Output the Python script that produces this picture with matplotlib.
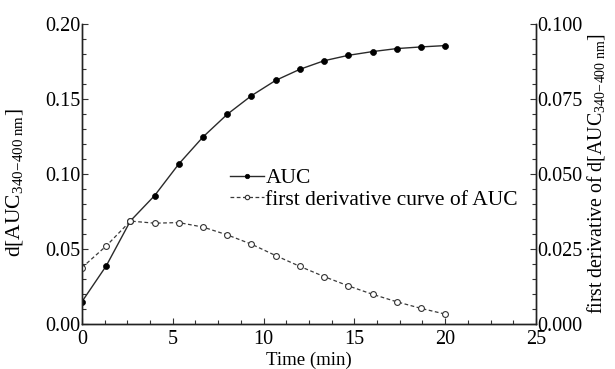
import numpy as np
import matplotlib
matplotlib.use('Agg')
import matplotlib.pyplot as plt
from matplotlib.ticker import MultipleLocator, FormatStrFormatter

plt.rcParams['font.family'] = ['Liberation Serif', 'DejaVu Serif']
plt.rcParams['mathtext.fontset'] = 'custom'
plt.rcParams['mathtext.rm'] = 'Liberation Serif'
plt.rcParams['mathtext.it'] = 'Liberation Serif:italic'

# sampling every 80 s
time_min = [0, 4/3, 8/3, 4, 16/3, 20/3, 8, 28/3, 32/3, 12, 40/3, 44/3, 16, 52/3, 56/3, 20]
auc = [0.0149, 0.0387, 0.0687, 0.0856, 0.1067, 0.1247, 0.1398, 0.1522, 0.1624,
       0.1698, 0.1755, 0.1791, 0.1816, 0.1836, 0.1847, 0.1856]
first_deriv = [0.0188, 0.0260, 0.0343, 0.0336, 0.0338, 0.0323, 0.0297, 0.0266, 0.0228,
               0.0192, 0.0158, 0.0127, 0.0099, 0.0074, 0.0052, 0.0033]

fig = plt.figure(figsize=(6.15, 3.69), dpi=100)
ax = fig.add_axes([0.1333, 0.122, 0.7382, 0.813])
ax2 = ax.twinx()

l1, = ax.plot(time_min, auc, '-', color='#2a2a2a', lw=1.0, marker='o', ms=4.3,
              mfc='black', mec='black', mew=0.5, label='AUC')
l2, = ax2.plot(time_min, first_deriv, '--', color='#3a3a3a', lw=0.9, marker='o', ms=4.2,
               mfc='white', mec='#333333', mew=0.8, label='first derivative curve of AUC')
l2.set_dashes((3, 2))

ax.set_xlim(0, 25)
ax.set_ylim(0, 0.2)
ax2.set_ylim(0, 0.1)
ax.xaxis.set_major_locator(MultipleLocator(5))
ax.xaxis.set_minor_locator(MultipleLocator(1.25))
ax.yaxis.set_major_locator(MultipleLocator(0.05))
ax.yaxis.set_minor_locator(MultipleLocator(0.01))
ax2.yaxis.set_major_locator(MultipleLocator(0.025))
ax2.yaxis.set_minor_locator(MultipleLocator(0.005))
ax.yaxis.set_major_formatter(FormatStrFormatter('%.2f'))
ax2.yaxis.set_major_formatter(FormatStrFormatter('%.3f'))

for a in (ax, ax2):
    a.spines['top'].set_visible(False)
    for s in a.spines.values():
        s.set_linewidth(1.0)
        s.set_color('#222222')
    a.tick_params(which='both', direction='in', labelsize=14.5, width=0.8, color='#333333')
    a.tick_params(which='major', length=4)
    a.tick_params(which='minor', length=3)
ax.tick_params(axis='x', pad=4)
ax.tick_params(axis='y', pad=1)
ax2.tick_params(axis='y', pad=1)

ax.set_xlabel('Time (min)', fontsize=13.5, labelpad=2)
ax.set_ylabel(r'd[AUC$_{\mathrm{340\!-\!400\ nm}}$]', fontsize=15.5)
ax.yaxis.set_label_coords(-0.125, 0.47)
ax2.set_ylabel(r'first derivative of d[AUC$_{\mathrm{340\!-\!400\ nm}}$]', fontsize=14.3, labelpad=2)

leg = ax.legend(handles=[l1, l2], loc='center left', bbox_to_anchor=(0.307, 0.45),
                frameon=False, fontsize=15.5, handlelength=1.6, handletextpad=0.05,
                labelspacing=0.05, borderaxespad=0, markerscale=0.75)

fig.savefig('out.png', dpi=100)
